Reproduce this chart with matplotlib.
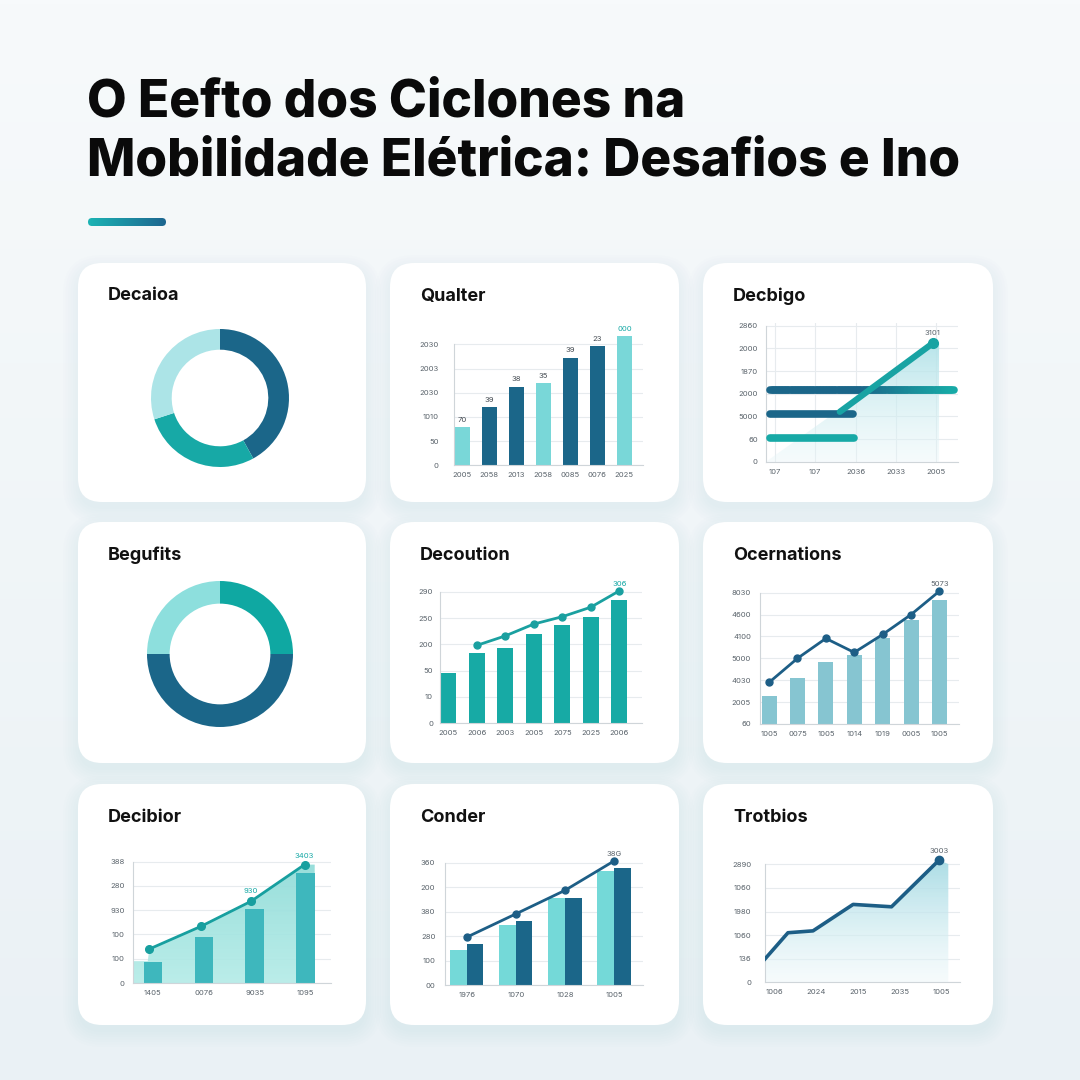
import matplotlib
matplotlib.use('Agg')
import matplotlib.pyplot as plt
import numpy as np
from matplotlib.patches import FancyBboxPatch, Polygon
from matplotlib.collections import LineCollection
from matplotlib.colors import LinearSegmentedColormap, to_rgba

plt.rcParams['font.family'] = ['Inter', 'DejaVu Sans']

W = H = 1080
DARK = '#1b6689'
TEAL = '#17a9a6'
LIGHT = '#79d7d8'
NAVY = '#1d5e86'
TICK = '#5b646c'

# ---- data ----
title_lines = ['O Eefto dos Ciclones na', 'Mobilidade Elétrica: Desafios e Ino']
card_titles = ['Decaioa', 'Qualter', 'Decbigo',
               'Begufits', 'Decoution', 'Ocernations',
               'Decibior', 'Conder', 'Trotbios']

donut1_vals = [42, 28, 30]
donut2_vals = [25, 50, 25]

qual_vals = [1.57, 2.40, 3.25, 3.39, 4.45, 4.92, 5.33]
qual_labels = ['70', '39', '38', '35', '39', '23', '000']
qual_xt = ['2005', '2058', '2013', '2058', '0085', '0076', '2025']
qual_yt = ['0', '50', '1010', '2030', '2003', '2030']

decb_bar_y = [3.15, 2.09, 1.03]
decb_bar_end = [4.45, 1.93, 1.97]
decb_line_x = [1.61, 3.91]
decb_line_y = [2.20, 5.22]
decb_area_x = [-0.22, 3.91, 4.07]
decb_area_y = [0.0, 5.22, 5.22]
decb_xt = ['107', '107', '2036', '2033', '2005']
decb_yt = ['0', '60', '5000', '2000', '1870', '2000', '2860']

deco_bars = [1.92, 2.67, 2.87, 3.39, 3.73, 4.03, 4.67]
deco_line = [2.96, 3.32, 3.77, 4.05, 4.41, 5.03]
deco_xt = ['2005', '2006', '2003', '2005', '2075', '2025', '2006']
deco_yt = ['0', '10', '50', '200', '250', '290']

ocer_bars = [1.28, 2.09, 2.83, 3.15, 3.94, 4.73, 5.66]
ocer_line = [1.90, 3.00, 3.91, 3.27, 4.09, 5.00, 6.07]
ocer_xt = ['1005', '0075', '1005', '1014', '1019', '0005', '1005']
ocer_yt = ['60', '2005', '4030', '5000', '4100', '4600', '8030']

debi_bars = [0.88, 1.90, 3.04, 4.55]
debi_line_x = [-0.07, 0.95, 1.93, 2.98]
debi_line_y = [1.40, 2.34, 3.37, 4.88]
debi_area_x = [-0.39, -0.10, -0.07, 0.95, 1.93, 2.98, 3.18]
debi_area_y = [0.90, 0.90, 1.40, 2.34, 3.37, 4.88, 4.88]
debi_xt = ['1405', '0076', '9035', '1095']
debi_yt = ['0', '100', '100', '930', '280', '388']

cond_a = [1.45, 2.46, 3.55, 4.67]
cond_b = [1.67, 2.64, 3.57, 4.77]
cond_line = [1.96, 2.91, 3.87, 5.07]
cond_xt = ['1976', '1070', '1028', '1005']
cond_yt = ['00', '100', '280', '380', '200', '360']

trot_x = [-0.23, 0.32, 0.92, 1.88, 2.80, 3.94]
trot_y = [0.99, 2.10, 2.18, 3.30, 3.20, 5.18]
trot_area_x = trot_x + [4.16]
trot_area_y = trot_y + [5.01]
trot_xt = ['1006', '2024', '2015', '2035', '1005']
trot_yt = ['0', '136', '1060', '1980', '1060', '2890']


def grad_fill(ax, verts, c_top, c_bot, vertical=True, z=1):
    poly = Polygon(verts, closed=True, fc='none', ec='none')
    ax.add_patch(poly)
    xs = [v[0] for v in verts]
    ys = [v[1] for v in verts]
    cmap = LinearSegmentedColormap.from_list('g', [c_bot, c_top])
    g = np.linspace(0, 1, 200)
    arr = g.reshape(-1, 1) if vertical else g.reshape(1, -1)
    im = ax.imshow(arr, cmap=cmap, extent=(min(xs), max(xs), min(ys), max(ys)),
                   origin='lower', aspect='auto', zorder=z, interpolation='bicubic')
    im.set_clip_path(poly)


def chart_ax(x0, x1, ybase, ytop, n, ymax, xlim, xt_pos, xt, yt, ypad):
    unit = (ybase - ytop) / n
    top = ybase - ymax * unit
    ax = fig.add_axes([x0 / W, 1 - ybase / H, (x1 - x0) / W, (ybase - top) / H])
    ax.set_facecolor('none')
    ax.set_yticks(range(n + 1))
    ax.set_yticklabels(yt)
    ax.set_xticks(xt_pos)
    ax.set_xticklabels(xt)
    ax.tick_params(length=0, labelsize=5.5, labelcolor=TICK)
    ax.tick_params(axis='y', pad=ypad)
    ax.tick_params(axis='x', pad=5)
    for s in ['top', 'right']:
        ax.spines[s].set_visible(False)
    ax.spines['left'].set_bounds(0, n)
    for s in ['left', 'bottom']:
        ax.spines[s].set_color('#cfd5d9')
        ax.spines[s].set_linewidth(0.8)
    ax.grid(axis='y', color='#e7ebee', lw=0.8)
    ax.set_axisbelow(True)
    return ax, (xlim, ymax)


def fix(ax, lims):
    ax.set_xlim(*lims[0])
    ax.set_ylim(0, lims[1])


def lab(ax, x, y, s, color=TICK, dy=4):
    ax.annotate(s, xy=(x, y), xytext=(0, dy), textcoords='offset points',
                ha='center', va='bottom', fontsize=5.5, color=color)


fig = plt.figure(figsize=(10.8, 10.8), dpi=100)

# background + cards
bg = fig.add_axes([0, 0, 1, 1])
bg.set_xlim(0, W)
bg.set_ylim(H, 0)
bg.axis('off')
bgcm = LinearSegmentedColormap.from_list('bg', ['#f7fafb', '#eaf1f5'])
bg.imshow(np.linspace(0, 1, 256).reshape(-1, 1), cmap=bgcm, extent=(0, W, H, 0), aspect='auto')

cols = [(78, 366), (390, 679), (703, 993)]
rows = [(263, 502), (522, 763), (784, 1025)]
i = 0
for (y0, y1) in rows:
    for (x0, x1) in cols:
        for k in range(7):
            bg.add_patch(FancyBboxPatch((x0 - k * 2.5, y0 - k * 2.5 + 7), x1 - x0 + k * 5, y1 - y0 + k * 5,
                                        boxstyle='round,pad=0,rounding_size=%d' % (24 + k * 2.5),
                                        fc='#b3cad8', ec='none', alpha=0.025))
        bg.add_patch(FancyBboxPatch((x0, y0), x1 - x0, y1 - y0,
                                    boxstyle='round,pad=0,rounding_size=24', fc='white', ec='none'))
        bg.text(x0 + 30, y0 + 33, card_titles[i], fontsize=13, fontweight='bold',
                color='#111111', va='center', ha='left')
        i += 1

bg.text(87, 103, title_lines[0], fontsize=37, fontweight='heavy', color='#0a0a0a', va='center')
bg.text(87, 162, title_lines[1], fontsize=37, fontweight='heavy', color='#0a0a0a', va='center')

acc = FancyBboxPatch((88, 218), 78, 8, boxstyle='round,pad=0,rounding_size=4', fc='none', ec='none')
bg.add_patch(acc)
acm = LinearSegmentedColormap.from_list('acc', ['#1bb4b4', '#1d6690'])
im = bg.imshow(np.linspace(0, 1, 100).reshape(1, -1), cmap=acm, extent=(88, 166, 226, 218), aspect='auto')
im.set_clip_path(acc)
bg.set_xlim(0, W)
bg.set_ylim(H, 0)

# donut 1
r = 69
ax = fig.add_axes([(220 - r) / W, 1 - (398 + r) / H, 2 * r / W, 2 * r / H])
ax.pie(donut1_vals, colors=[DARK, TEAL, '#ace4e7'], startangle=90, counterclock=False,
       wedgeprops=dict(width=0.30, edgecolor='none'))
ax.set_xlim(-1, 1); ax.set_ylim(-1, 1); ax.set_aspect('equal')

# donut 2
r = 73
ax = fig.add_axes([(220 - r) / W, 1 - (654 + r) / H, 2 * r / W, 2 * r / H])
ax.pie(donut2_vals, colors=['#0fa8a2', DARK, '#8ddfdd'], startangle=90, counterclock=False,
       wedgeprops=dict(width=0.31, edgecolor='none'))
ax.set_xlim(-1, 1); ax.set_ylim(-1, 1); ax.set_aspect('equal')

# Qualter
ax, lims = chart_ax(454, 643, 465.3, 344.3, 5, 5.9, (-0.31, 6.69), range(7), qual_xt, qual_yt, 11)
qcol = [LIGHT, DARK, DARK, LIGHT, DARK, DARK, LIGHT]
ax.bar(range(7), qual_vals, width=0.55, color=qcol)
for j, v in enumerate(qual_vals):
    lab(ax, j, v, qual_labels[j], color=TEAL if j == 6 else '#444b52', dy=3)
fix(ax, lims)

# Decbigo
ax, lims = chart_ax(766, 958, 461.7, 325.7, 6, 6.1, (-0.22, 4.54), range(5), decb_xt, decb_yt, 6)
ax.grid(axis='x', color='#e7ebee', lw=0.8)
grad_fill(ax, list(zip(decb_area_x, decb_area_y)) + [(decb_area_x[-1], 0)],
          to_rgba('#b0e2e8', 0.9), to_rgba('#e8f6f8', 0.4), z=1)
xs = np.linspace(-0.13, decb_bar_end[0], 60)
segs = [[(xs[k], decb_bar_y[0]), (xs[k + 1], decb_bar_y[0])] for k in range(len(xs) - 1)]
cm = LinearSegmentedColormap.from_list('bar', [DARK, DARK, TEAL])
lc = LineCollection(segs, colors=cm(np.linspace(0, 1, len(segs))), linewidths=5.5,
                    capstyle='round', zorder=3)
ax.add_collection(lc)
ax.plot([-0.13, decb_bar_end[1]], [decb_bar_y[1]] * 2, color=DARK, lw=5.5,
        solid_capstyle='round', zorder=3)
ax.plot([-0.13, decb_bar_end[2]], [decb_bar_y[2]] * 2, color=TEAL, lw=5.5,
        solid_capstyle='round', zorder=3)
ax.plot(decb_line_x, decb_line_y, color='#18a3a3', lw=4.5, solid_capstyle='round', zorder=4)
ax.plot(decb_line_x[-1], decb_line_y[-1], 'o', ms=7, color='#18a3a3', zorder=5)
lab(ax, decb_line_x[-1], decb_line_y[-1], '3101', dy=5)
fix(ax, lims)

# Decoution
ax, lims = chart_ax(440, 642, 723.3, 591.7, 5, 5.6, (-0.29, 6.8), range(7), deco_xt, deco_yt, 5)
ax.bar(range(7), deco_bars, width=0.56, color='#17aaa5', zorder=2)
ax.plot(range(1, 7), deco_line, color='#1aa0a0', lw=2, marker='o', ms=5, zorder=3)
lab(ax, 6, deco_line[-1], '306', color=TEAL, dy=3)
fix(ax, lims)

# Ocernations
ax, lims = chart_ax(760, 959, 724, 592.7, 6, 6.6, (-0.32, 6.69), range(7), ocer_xt, ocer_yt, 6.5)
ax.bar(range(7), ocer_bars, width=0.53, color='#86c5d1', zorder=2)
ax.plot(range(7), ocer_line, color=NAVY, lw=2, marker='o', ms=5, zorder=3)
lab(ax, 6, ocer_line[-1], '5073', dy=3)
fix(ax, lims)

# Decibior
ax, lims = chart_ax(133, 331, 983, 861.7, 5, 5.6, (-0.39, 3.5), range(4), debi_xt, debi_yt, 6)
grad_fill(ax, [(debi_area_x[0], 0)] + list(zip(debi_area_x, debi_area_y)) + [(debi_area_x[-1], 0)],
          to_rgba('#93ddd9', 0.95), to_rgba('#b3ebe7', 0.9), z=1)
ax.bar(range(4), debi_bars, width=0.36, color='#3eb7bd', zorder=2)
ax.plot(debi_line_x, debi_line_y, color='#179f9f', lw=2, marker='o', ms=5.5, zorder=3)
lab(ax, debi_line_x[2], debi_line_y[2], '930', color=TEAL, dy=5)
lab(ax, debi_line_x[3], debi_line_y[3], '3403', color=TEAL, dy=4)
fix(ax, lims)

# Conder
ax, lims = chart_ax(445, 643, 985.3, 862.7, 5, 5.7, (-0.44, 3.59), range(4), cond_xt, cond_yt, 7)
gx = np.arange(4)
ax.bar(gx - 0.17, cond_a, width=0.34, color='#74d9d8', zorder=2)
ax.bar(gx + 0.17, cond_b, width=0.34, color=DARK, zorder=2)
ax.plot(gx, cond_line, color=NAVY, lw=2, marker='o', ms=5, zorder=3)
lab(ax, 3, cond_line[-1], '38G', dy=3)
fix(ax, lims)

# Trotbios
ax, lims = chart_ax(765, 960, 982.3, 864.3, 5, 5.8, (-0.23, 4.44), range(5), trot_xt, trot_yt, 10)
grad_fill(ax, [(trot_area_x[0], 0)] + list(zip(trot_area_x, trot_area_y)) + [(trot_area_x[-1], 0)],
          to_rgba('#a6dbe4', 0.95), to_rgba('#eef8fa', 0.5), z=1)
ax.plot(trot_x, trot_y, color=NAVY, lw=2.6, zorder=3, solid_joinstyle='round')
ax.plot(trot_x[-1], trot_y[-1], 'o', ms=6, color=NAVY, zorder=4)
lab(ax, trot_x[-1], trot_y[-1], '3003', dy=4)
fix(ax, lims)

fig.savefig('out.png', dpi=100)
